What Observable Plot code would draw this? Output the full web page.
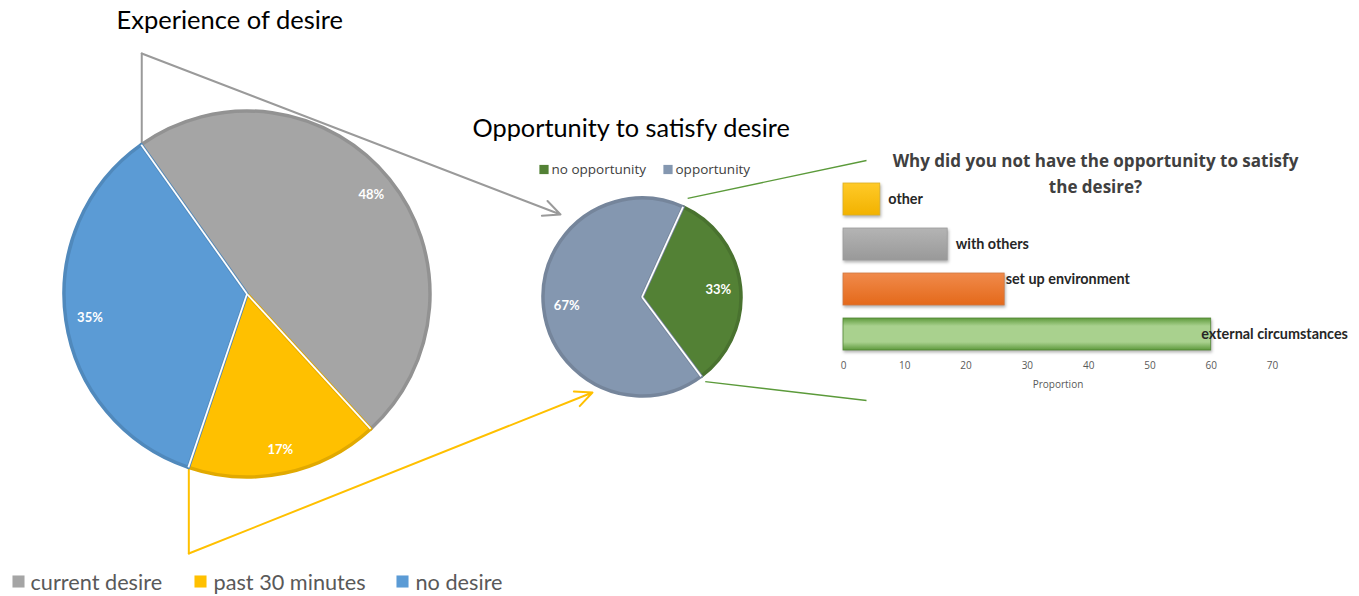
<!DOCTYPE html>
<html>
<head>
<meta charset="utf-8">
<script src="https://cdn.jsdelivr.net/npm/d3@7"></script>
<script src="https://cdn.jsdelivr.net/npm/@observablehq/plot@0.6"></script>
<style>
  body { margin: 0; background: #fff; }
  #wrap { position: relative; width: 1359px; height: 596px; overflow: hidden; background: #fff; }
  #wrap > svg { position: absolute; background: transparent; }
</style>
</head>
<body>
<div id="wrap"></div>
<script>
// ---------------- DATA ----------------
const desireCategories = ["current desire", "past 30 minutes", "no desire"];
const desireValues = [48, 17, 35];
const opportunityCategories = ["no opportunity", "opportunity"];
const opportunityValues = [33, 67];
const reasonCategories = ["other", "with others", "set up environment", "external circumstances"];
const reasonValues = [6, 17, 26.3, 60];
const proportionTicks = [0, 10, 20, 30, 40, 50, 60, 70];

// ---------------- STYLES ----------------
const desireColors = ["#A5A5A5", "#FFC000", "#5B9BD5"];
const opportunityColors = ["#538135", "#8497B0"];
const reasonGradients = [
  ["#FFCA28", "#F2B200"],
  ["#B4B4B4", "#999999"],
  ["#F08A4B", "#E4691A"],
  ["#5E9A3C", "#A9D18E"]
];

// ---------------- LAYOUT ----------------
const W = 1359, H = 596;
const bigPie = { cx: 247, cy: 294, r: 183, start: -35.3, labelF: 0.87 };
const smallPie = { cx: 642, cy: 297, r: 99, start: 24.5, labelF: 0.77 };

const rad = a => a * Math.PI / 180;
function pieArcs(values, g) {
  return d3.pie().sort(null).value(d => d)
    .startAngle(rad(g.start)).endAngle(rad(g.start) + 2 * Math.PI)(values);
}
function pt(g, angle, f = 1) {
  return [g.cx + g.r * f * Math.sin(angle), g.cy - g.r * f * Math.cos(angle)];
}
const bigArcs = pieArcs(desireValues, bigPie);
const smallArcs = pieArcs(opportunityValues, smallPie);

const bigLabels = bigArcs.map(a => {
  const [x, y] = pt(bigPie, (a.startAngle + a.endAngle) / 2, bigPie.labelF);
  return { x, y, text: Math.round(a.value) + "%" };
});
const smallLabels = smallArcs.map(a => {
  const [x, y] = pt(smallPie, (a.startAngle + a.endAngle) / 2, smallPie.labelF);
  return { x, y, text: Math.round(a.value) + "%" };
});

function pieMark(arcs, g, colors) {
  return (index, scales) => {
    const cx = scales.x(g.cx), cy = scales.y(g.cy);
    const grp = d3.create("svg:g").attr("transform", `translate(${cx},${cy})`);
    const arc = d3.arc().innerRadius(0).outerRadius(g.r);
    grp.selectAll("path").data(arcs).join("path")
      .attr("d", arc)
      .attr("fill", (d, i) => colors[i])
      .attr("stroke", (d, i) => d3.color(colors[i]).darker(0.35))
      .attr("stroke-width", 3.5)
      .attr("stroke-linejoin", "round");
    grp.selectAll("line").data(arcs).join("line")
      .attr("x1", 0).attr("y1", 0)
      .attr("x2", d => g.r * Math.sin(d.startAngle))
      .attr("y2", d => -g.r * Math.cos(d.startAngle))
      .attr("stroke", "#fff").attr("stroke-width", 1.8);
    return grp.node();
  };
}

// connectors (start points derived from slice boundaries)
const grayStart = pt(bigPie, bigArcs[0].startAngle);
const yellowEnd = pt(bigPie, bigArcs[1].endAngle);
const grayPath = [{ x: grayStart[0], y: grayStart[1] }, { x: grayStart[0], y: 53 }];
const grayArrow = [{ x1: grayStart[0], y1: 53, x2: 560, y2: 214 }];
const yellowPath = [{ x: yellowEnd[0], y: yellowEnd[1] }, { x: yellowEnd[0], y: 553 }];
const yellowArrow = [{ x1: yellowEnd[0], y1: 553, x2: 592, y2: 392 }];
const gTop = pt(smallPie, smallArcs[0].startAngle, 1.1);
const gBot = pt(smallPie, smallArcs[0].endAngle, 1.06);
const greenLinks = [
  { x1: gTop[0], y1: gTop[1], x2: 866, y2: 160 },
  { x1: gBot[0], y1: gBot[1], x2: 866, y2: 400 }
];

const bottomLegend = desireCategories.map((c, i) => ({ label: c, color: desireColors[i], sx: [18, 200, 402][i], tx: [30, 213, 415][i] }));
const smallLegend = opportunityCategories.map((c, i) => ({ label: c, color: opportunityColors[i], sx: [543.5, 667.5][i], tx: [551, 675][i] }));

const main = Plot.plot({
  width: W, height: H, margin: 0,
  x: { domain: [0, W], range: [0, W], axis: null },
  y: { domain: [0, H], range: [0, H], axis: null },
  color: { type: "identity" },
  style: { background: "transparent", fontFamily: "Lato, sans-serif" },
  marks: [
    Plot.line(grayPath, { x: "x", y: "y", stroke: "#9A9A9A", strokeWidth: 2 }),
    Plot.arrow(grayArrow, { x1: "x1", y1: "y1", x2: "x2", y2: "y2", stroke: "#9A9A9A", strokeWidth: 2, headLength: 14, headAngle: 50 }),
    Plot.line(yellowPath, { x: "x", y: "y", stroke: "#FFC000", strokeWidth: 2 }),
    Plot.arrow(yellowArrow, { x1: "x1", y1: "y1", x2: "x2", y2: "y2", stroke: "#FFC000", strokeWidth: 2, headLength: 14, headAngle: 50 }),
    Plot.link(greenLinks, { x1: "x1", y1: "y1", x2: "x2", y2: "y2", stroke: "#5B9A3A", strokeWidth: 1.3 }),
    pieMark(bigArcs, bigPie, desireColors),
    pieMark(smallArcs, smallPie, opportunityColors),
    Plot.text(bigLabels, { x: "x", y: "y", text: "text", fill: "#fff", fontSize: 13, fontWeight: "bold", fontFamily: "Lato" }),
    Plot.text(smallLabels, { x: "x", y: "y", text: "text", fill: "#fff", fontSize: 13, fontWeight: "bold", fontFamily: "Lato" }),
    // titles
    Plot.text(["Experience of desire"], { x: 116, y: 20, text: d => d, textAnchor: "start", fontSize: 25.5, fill: "#000", fontFamily: "Lato" }),
    Plot.text(["Opportunity to satisfy desire"], { x: 472, y: 128, text: d => d, textAnchor: "start", fontSize: 25.3, fill: "#000", fontFamily: "Lato" }),
    Plot.text(["Why did you not have the opportunity to satisfy", "the desire?"], { x: 1095, y: (d, i) => [161, 187][i], text: d => d, fontSize: 17, fontWeight: "bold", fill: "#404040", fontFamily: "Open Sans" }),
    // small legend
    Plot.dot(smallLegend, { x: "sx", y: 169, symbol: "square", r: 5.2, fill: "color", stroke: null }),
    Plot.text(smallLegend, { x: "tx", y: 169, text: "label", textAnchor: "start", fontSize: 13.5, fill: "#404040", fontFamily: "Open Sans" }),
    // bottom legend
    Plot.dot(bottomLegend, { x: "sx", y: 581, symbol: "square", r: 6.8, fill: "color", stroke: null }),
    Plot.text(bottomLegend, { x: "tx", y: 583, text: "label", textAnchor: "start", fontSize: 21.7, fill: "#595959", fontFamily: "Lato" })
  ]
});
main.style.left = "0px";
main.style.top = "0px";
document.getElementById("wrap").appendChild(main);

// ---------------- BAR CHART ----------------
const reasonData = reasonCategories.map((c, i) => ({ category: c, value: reasonValues[i], grad: `url(#reason-grad-${i})`, edge: d3.color(reasonGradients[i][0]).darker(0.4).formatHex() }));
const plainLabels = ["other", "with others"];
const labelStyle = { x: "value", y: "category", text: "category", textAnchor: "start", fontSize: 14.4, fontWeight: "bold", fill: "#262626", fontFamily: "Lato" };

const bar = Plot.plot({
  width: 529, height: 260,
  marginLeft: 13, marginRight: 87, marginTop: 41, marginBottom: 48,
  style: { background: "transparent", fontFamily: "Open Sans", overflow: "visible" },
  x: { domain: [0, 70], axis: null },
  y: { domain: reasonCategories, paddingInner: 0.28, paddingOuter: 0, axis: null },
  color: { type: "identity" },
  marks: [
    Plot.barX(reasonData, { x: "value", y: "category", fill: "grad", stroke: "edge", strokeWidth: 0.8 }),
    Plot.axisX({ ticks: proportionTicks, tickSize: 0, tickPadding: 9, fontSize: 10, fill: "#595959", label: null, fontFamily: "Open Sans" }),
    Plot.text(["Proportion"], { frameAnchor: "bottom", lineAnchor: "middle", dy: 32, text: d => d, fontSize: 10, fill: "#595959", fontFamily: "Open Sans" }),
    Plot.text(reasonData, { ...labelStyle, filter: d => plainLabels.includes(d.category), dx: 8 }),
    Plot.text(reasonData, { ...labelStyle, filter: d => d.category === "set up environment", dx: 1, dy: -10 }),
    Plot.text(reasonData, { ...labelStyle, filter: d => d.category === "external circumstances", dx: -10 })
  ]
});
const defs = d3.select(bar).insert("defs", ":first-child");
reasonGradients.forEach((g, i) => {
  const lg = defs.append("linearGradient").attr("id", `reason-grad-${i}`).attr("x1", 0).attr("y1", 0).attr("x2", 0).attr("y2", 1);
  if (i === 3) {
    lg.append("stop").attr("offset", "0%").attr("stop-color", g[0]);
    lg.append("stop").attr("offset", "25%").attr("stop-color", g[1]);
    lg.append("stop").attr("offset", "75%").attr("stop-color", g[1]);
    lg.append("stop").attr("offset", "100%").attr("stop-color", g[0]);
  } else {
    lg.append("stop").attr("offset", "0%").attr("stop-color", g[0]);
    lg.append("stop").attr("offset", "100%").attr("stop-color", g[1]);
  }
});
d3.select(bar).selectAll("rect").style("filter", "drop-shadow(1px 2px 1.5px rgba(0,0,0,0.3))");
bar.style.left = "830px";
bar.style.top = "140px";
document.getElementById("wrap").appendChild(bar);
</script>
</body>
</html>
